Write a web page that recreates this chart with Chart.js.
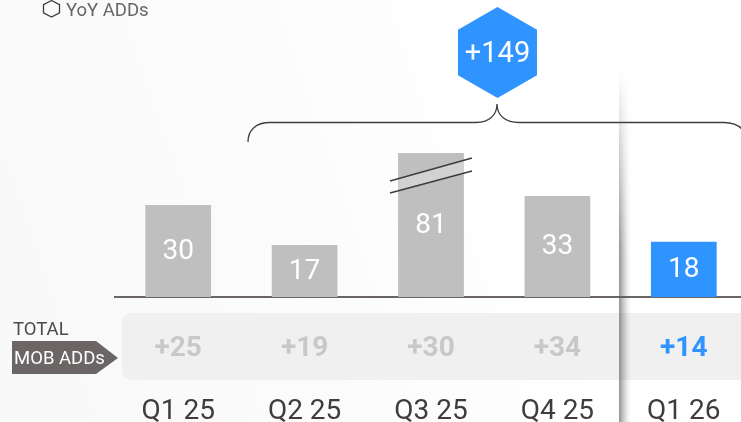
<!DOCTYPE html>
<html>
<head>
<meta charset="utf-8">
<style>
html, body { margin: 0; padding: 0; width: 741px; height: 422px; overflow: hidden; background: #fff; }
canvas { display: block; }
</style>
<script src="https://cdn.jsdelivr.net/npm/chart.js@4/dist/chart.umd.min.js"></script>
</head>
<body>
<canvas id="mobChart" width="760" height="422"></canvas>
<script>
const quarters = ['Q1 25', 'Q2 25', 'Q3 25', 'Q4 25', 'Q1 26'];
const mobAdds = [30, 17, 81, 33, 18];
const yoyAdds = ['+25', '+19', '+30', '+34', '+14'];
const yoyTotal = '+149';
const axisTop = 47; // the Q3 bar is broken, so the axis stops short of 81

const BLUE = '#2f94ff';
const GREY = '#bfbfbf';
const DARK = '#403c3c';
const FONT = 'Roboto, sans-serif';

function polygon(ctx, pts) {
    ctx.beginPath();
    pts.forEach((p, i) => i ? ctx.lineTo(p[0], p[1]) : ctx.moveTo(p[0], p[1]));
    ctx.closePath();
}

function hexagon(ctx, cx, top, bottom, halfW) {
    const h = bottom - top;
    polygon(ctx, [[cx, top], [cx + halfW, top + h * 0.25], [cx + halfW, top + h * 0.75],
        [cx, bottom], [cx - halfW, top + h * 0.75], [cx - halfW, top + h * 0.25]]);
}

function text(ctx, str, x, y, font, color, align) {
    ctx.font = font;
    ctx.fillStyle = color;
    ctx.textAlign = align || 'center';
    ctx.textBaseline = 'middle';
    ctx.fillText(str, x, y);
}

const backdrop = {
    id: 'backdrop',
    beforeDraw(chart) {
        const ctx = chart.ctx;
        const g = ctx.createLinearGradient(0, 160, 460, 0);
        g.addColorStop(0, '#f9f9f9');
        g.addColorStop(0.6, '#fcfcfc');
        g.addColorStop(1, '#ffffff');
        ctx.fillStyle = g;
        ctx.fillRect(0, 0, chart.width, chart.height);

        // band behind the YoY row
        ctx.fillStyle = '#f0f0f0';
        ctx.beginPath();
        ctx.roundRect(122, 313, 640, 67, 9);
        ctx.fill();
    }
};

const overlay = {
    id: 'overlay',
    afterDraw(chart) {
        const ctx = chart.ctx;
        const x = chart.scales.x;
        const bars = chart.getDatasetMeta(0).data;
        ctx.save();

        // values inside the bars
        bars.forEach((bar, i) => {
            const top = Math.max(bar.y, chart.chartArea.top);
            text(ctx, String(mobAdds[i]), bar.x, (top + bar.base) / 2 + 1, '28px ' + FONT, '#ffffff');
        });

        // break mark on the Q3 bar
        polygon(ctx, [[399, 178.5], [464, 160], [464, 173], [399, 190.5]]);
        ctx.fillStyle = '#d2d2d2';
        ctx.fill();
        ctx.strokeStyle = DARK;
        ctx.lineWidth = 1.5;
        [[181, 158], [193, 171]].forEach(l => {
            ctx.beginPath();
            ctx.moveTo(390, l[0]);
            ctx.lineTo(472, l[1]);
            ctx.stroke();
        });

        // YoY row
        yoyAdds.forEach((v, i) => {
            const last = i === yoyAdds.length - 1;
            text(ctx, v, x.getPixelForValue(i), 349, 'bold 28px ' + FONT, last ? BLUE : '#c8c8c8');
        });

        // row labels
        text(ctx, 'TOTAL', 13, 330, '18.5px ' + FONT, '#4a4a4a', 'left');
        polygon(ctx, [[12, 341], [96, 341], [118, 358], [96, 374], [12, 374]]);
        ctx.fillStyle = '#6b6565';
        ctx.fill();
        text(ctx, 'MOB ADDs', 14, 359, '18.5px ' + FONT, '#ffffff', 'left');

        // legend
        hexagon(ctx, 51.5, 0.5, 17, 8);
        ctx.strokeStyle = DARK;
        ctx.lineWidth = 1.3;
        ctx.stroke();
        text(ctx, 'YoY ADDs', 66, 11, '18.5px ' + FONT, '#666666', 'left');

        // brace over the last four quarters
        ctx.beginPath();
        ctx.moveTo(248, 142);
        ctx.bezierCurveTo(248, 130, 256, 122.5, 270, 122.5);
        ctx.lineTo(476, 122.5);
        ctx.bezierCurveTo(488, 122.5, 497, 116, 497, 104);
        ctx.bezierCurveTo(497, 116, 506, 122.5, 519, 122.5);
        ctx.lineTo(724, 122.5);
        ctx.bezierCurveTo(732, 122.5, 738, 125, 742, 129);
        ctx.strokeStyle = DARK;
        ctx.lineWidth = 1.3;
        ctx.stroke();

        // total badge
        hexagon(ctx, 497.5, 7, 98, 39.5);
        ctx.fillStyle = BLUE;
        ctx.fill();
        text(ctx, yoyTotal, 497.5, 54.5, '29px ' + FONT, '#ffffff');

        // shadow on the edge of the current quarter panel
        for (let c = 0; c < 12; c++) {
            const a = 0.62 * Math.pow(1 - c / 12, 1.6);
            const s = ctx.createLinearGradient(0, 70, 0, 250);
            s.addColorStop(0, 'rgba(90,90,90,0)');
            s.addColorStop(1, 'rgba(90,90,90,' + a + ')');
            ctx.fillStyle = s;
            ctx.fillRect(619 + c, 70, 1, 352);
        }
        ctx.restore();
    }
};

new Chart(document.getElementById('mobChart').getContext('2d'), {
    type: 'bar',
    data: {
        labels: quarters,
        datasets: [{
            data: mobAdds,
            backgroundColor: [GREY, GREY, GREY, GREY, BLUE],
            barPercentage: 0.52,
            categoryPercentage: 1
        }]
    },
    options: {
        responsive: false,
        animation: false,
        layout: { padding: { left: 115, right: 13, top: 153, bottom: 0 } },
        plugins: { legend: { display: false }, tooltip: { enabled: false } },
        scales: {
            x: {
                afterFit(scale) {
                    scale.paddingLeft = 0;
                    scale.paddingRight = 0;
                    scale.height = 125;
                },
                grid: { display: false },
                border: { display: true, color: '#6a6464', width: 2 },
                ticks: {
                    padding: 90,
                    color: DARK,
                    maxRotation: 0,
                    font: { family: 'Roboto', size: 28 }
                }
            },
            y: { display: false, min: 0, max: axisTop }
        }
    },
    plugins: [backdrop, overlay]
});
</script>
</body>
</html>
